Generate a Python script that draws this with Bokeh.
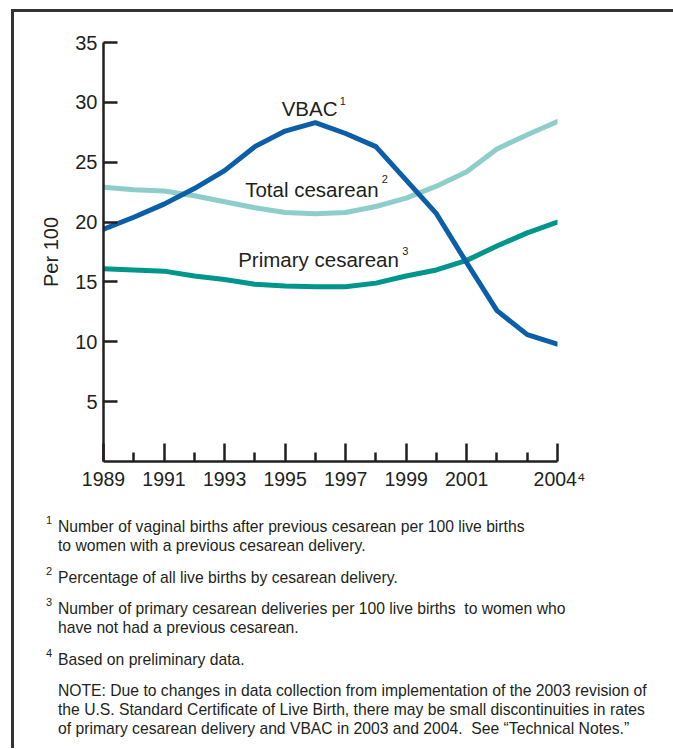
from bokeh.plotting import figure
from bokeh.models import Range1d, FixedTicker, Label
from bokeh.layouts import column
from bokeh.core.properties import value
from bokeh.embed import file_html
from bokeh.resources import INLINE

# ---- data ----
years = [1989, 1990, 1991, 1992, 1993, 1994, 1995, 1996, 1997, 1998,
         1999, 2000, 2001, 2002, 2003, 2004]
vbac = [19.4, 20.4, 21.5, 22.8, 24.3, 26.3, 27.6, 28.3, 27.4, 26.3,
        23.5, 20.7, 16.6, 12.6, 10.6, 9.8]
total_cesarean = [22.9, 22.7, 22.6, 22.2, 21.7, 21.2, 20.8, 20.7, 20.8, 21.3,
                  22.0, 23.0, 24.2, 26.1, 27.3, 28.4]
primary_cesarean = [16.1, 16.0, 15.9, 15.5, 15.2, 14.8, 14.65, 14.6, 14.6, 14.9,
                    15.5, 16.0, 16.8, 18.0, 19.1, 20.0]

y_ticks = [5, 10, 15, 20, 25, 30, 35]
x_major = [1989, 1991, 1993, 1995, 1997, 1999, 2001, 2004]
x_minor = [1990, 1992, 1994, 1996, 1998, 2000, 2002, 2003]
x_label_overrides = {2004: "\u20092004\u2074"}

series_labels = ["VBAC", "Total cesarean", "Primary cesarean"]
series_marks = ["1", "2", "3"]
footnotes = [
    ("1", ["Number of vaginal births after previous cesarean per 100 live births",
           "to women with a previous cesarean delivery."]),
    ("2", ["Percentage of all live births by cesarean delivery."]),
    ("3", ["Number of primary cesarean deliveries per 100 live births \u00a0to women who",
           "have not had a previous cesarean."]),
    ("4", ["Based on preliminary data."]),
    ("", ["NOTE: Due to changes in data collection from implementation of the 2003 revision of",
          "the U.S. Standard Certificate of Live Birth, there may be small discontinuities in rates",
          "of primary cesarean delivery and VBAC in 2003 and 2004. \u00a0See \u201cTechnical Notes.\u201d"]),
]

C_VBAC = "#0b5ea8"
C_TOTAL = "#8dcdca"
C_PRIM = "#00968b"
INK = "#231f20"
FONT = "Liberation Sans"

W = 659
OX, OY = 14, 12          # page position of the content origin
H1 = 480

p1 = figure(width=W, height=H1, output_backend="svg", toolbar_location=None,
            x_range=Range1d(1989, 2004), y_range=Range1d(0, 35),
            min_border_left=89, min_border_right=W - 543, min_border_top=30,
            min_border_bottom=H1 - 450)
p1.outline_line_color = None
p1.grid.visible = False
p1.border_fill_color = "white"

# y axis
ya = p1.yaxis[0]
ya.ticker = FixedTicker(ticks=y_ticks)
ya.major_tick_in = 14
ya.major_tick_out = 0
ya.minor_tick_in = 0
ya.minor_tick_out = 0
ya.axis_line_width = 2.5
ya.axis_line_color = INK
ya.major_tick_line_width = 2.5
ya.major_tick_line_color = INK
ya.major_label_text_font = FONT
ya.major_label_text_font_size = "20px"
ya.major_label_text_color = INK
ya.major_label_standoff = 6
ya.axis_label = "Per 100"
ya.axis_label_text_font = FONT
ya.axis_label_text_font_size = "20px"
ya.axis_label_text_font_style = "normal"
ya.axis_label_text_color = INK
ya.axis_label_standoff = 10

# x axis
xa = p1.xaxis[0]
xa.ticker = FixedTicker(ticks=x_major, minor_ticks=x_minor)
xa.major_label_overrides = x_label_overrides
xa.major_tick_in = 18
xa.major_tick_out = 0
xa.minor_tick_in = 9
xa.minor_tick_out = 0
xa.axis_line_width = 2.5
xa.axis_line_color = INK
xa.major_tick_line_width = 2.5
xa.major_tick_line_color = INK
xa.minor_tick_line_width = 2.5
xa.minor_tick_line_color = INK
xa.major_label_text_font = FONT
xa.major_label_text_font_size = "19.5px"
xa.major_label_text_color = INK
xa.major_label_standoff = 6

# lines
for vals, col in [(total_cesarean, C_TOTAL), (primary_cesarean, C_PRIM), (vbac, C_VBAC)]:
    p1.line(years, vals, line_width=5, line_color=col, line_cap="round", line_join="round")


# helper: page pixel -> data coordinates for annotation placement
def dx(px):
    return 1989 + (px - 103.3) / (454 / 15)


def dy(py):
    return (462.0 - py) / 12.0


def lab(text, px, py, size, baseline="alphabetic"):
    p1.add_layout(Label(x=dx(px), y=dy(py), text=text, text_font=FONT,
                        text_font_size=size, text_color=INK,
                        text_baseline=baseline, text_align="left"))


# series labels with superscripts
label_pos = [(281.5, 115.5, 339.5, 97.0), (245.0, 196.0, 381.5, 175.0), (238.0, 266.7, 402.0, 246.5)]
for name, mark, (lx, ly, sx, sy) in zip(series_labels, series_marks, label_pos):
    lab(name, lx, ly - 7, "20.5px")
    lab(mark, sx, sy, "11px", baseline="top")

# ---- footnote panel ----
H2 = 749 - OY - H1 - 1
p2 = figure(width=W, height=H2, output_backend="svg", toolbar_location=None,
            x_range=Range1d(0, W), y_range=Range1d(H2, 0),
            min_border=0, x_axis_location=None, y_axis_location=None)
p2.outline_line_color = None
p2.grid.visible = False

for pl in (p1, p2):
    if "frame_align" in pl.properties():
        pl.frame_align = False

top2 = OY + H1
baselines = [[526, 545], [577], [608, 627], [659], [690, 709, 728]]
tx, ty, tt = [], [], []
sx_, sy_, st = [], [], []
for (mark, lines), bls in zip(footnotes, baselines):
    if mark:
        sx_.append(45.5 - OX)
        sy_.append(bls[0] - 11 - top2)
        st.append(mark)
    for line, b in zip(lines, bls):
        tx.append(57.5 - OX)
        ty.append(b - top2)
        tt.append(line)
p2.text(x=tx, y=ty, text=tt, text_font=value(FONT), text_font_size="15.7px",
        text_color=INK, text_baseline="alphabetic", text_align="left")
p2.text(x=sx_, y=sy_, text=st, text_font=value(FONT), text_font_size="11px",
        text_color=INK, text_baseline="top", text_align="left")

layout = column(p1, p2)
layout.styles = {"margin-left": "11px", "margin-top": "9px",
                 "border-left": "3px solid #333333", "border-top": "3px solid #333333"}

open("out.html", "w").write(file_html(layout, INLINE))
